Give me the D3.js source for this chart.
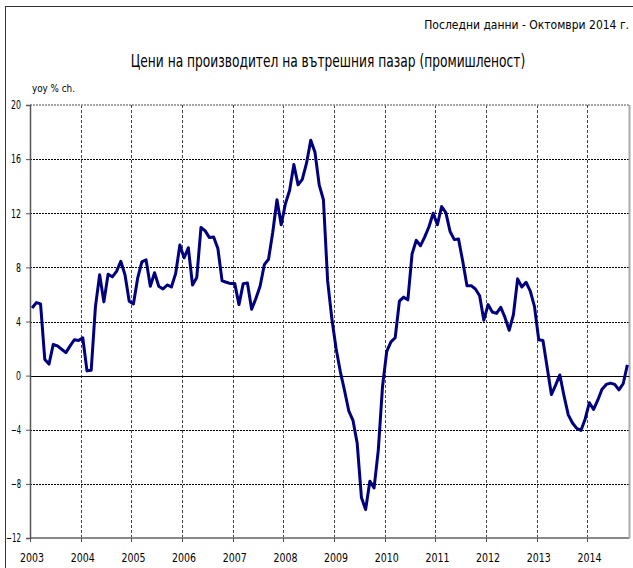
<!DOCTYPE html>
<head>
    <title>Цени на производител</title>
</head>
<meta charset="utf-8">

<script src="https://d3js.org/d3.v7.min.js"></script>

<style>
  body { margin: 0; background: #fff; }
  text { font-family: "DejaVu Sans Condensed", "Liberation Sans Narrow", "Arial Narrow", sans-serif; fill: #000; }
</style>

<div id="my_dataviz"></div>
<body>
    <script>

    // monthly yoy % change, Jan 2003 - Oct 2014
    var years = ["2003","2004","2005","2006","2007","2008","2009","2010","2011","2012","2013","2014"]
    var yTicks = [-12, -8, -4, 0, 4, 8, 12, 16, 20]
    var values = [
      5.0, 5.4, 5.3, 1.2, 0.85, 2.3, 2.2, 1.95, 1.7, 2.2, 2.65, 2.6,
      2.8, 0.35, 0.4, 5.1, 7.45, 5.45, 7.5, 7.3, 7.7, 8.45, 7.45, 5.5,
      5.3, 7.2, 8.4, 8.55, 6.6, 7.6, 6.6, 6.4, 6.7, 6.55, 7.55, 9.65,
      8.7, 9.45, 6.7, 7.25, 10.95, 10.7, 10.2, 10.25, 9.4, 7.0, 6.9, 6.8,
      6.8, 5.25, 6.8, 6.85, 4.9, 5.7, 6.6, 8.2, 8.6, 10.6, 13.0, 11.15,
      12.7, 13.7, 15.6, 14.1, 14.5, 15.7, 17.4, 16.5, 14.1, 13.0, 7.0, 4.2,
      2.0, 0.3, -1.1, -2.6, -3.3, -5.0, -9.0, -9.9, -7.8, -8.3, -5.5, -0.8,
      1.8, 2.5, 2.8, 5.5, 5.8, 5.6, 9.0, 10.0, 9.6, 10.25, 11.0, 12.0,
      11.15, 12.5, 12.05, 10.65, 10.05, 10.1, 8.45, 6.65, 6.65, 6.4, 5.9, 4.1,
      5.25, 4.7, 4.6, 5.05, 4.3, 3.35, 4.5, 7.15, 6.55, 6.9, 6.25, 5.1,
      2.65, 2.6, 0.6, -1.4, -0.7, 0.05, -1.5, -2.9, -3.5, -3.9, -4.05, -3.2,
      -2.0, -2.5, -1.8, -1.0, -0.65, -0.55, -0.65, -1.05, -0.6, 0.8
    ]

    var width = 633, height = 568

    var svg = d3.select("#my_dataviz")
      .append("svg")
        .attr("width", width)
        .attr("height", height)

    // squeeze a text horizontally so it is w pixels wide, anchored at (ax, ay)
    function narrow(sel, ax, ay, w, anchor) {
      sel.style("text-anchor", anchor).attr("x", 0).attr("y", 0)
      var natural = sel.node().getComputedTextLength()
      var s = w / natural
      sel.attr("transform", "translate(" + ax + "," + ay + ") scale(" + s + ",1)")
    }

    // outer frame
    svg.append("rect")
      .attr("x", 5.5).attr("y", 6.5)
      .attr("width", 640).attr("height", 600)
      .style("fill", "none").style("stroke", "#333").style("stroke-width", 1)

    var x = d3.scaleLinear()
      .domain([0, values.length])
      .range([30, 629.5])

    var y = d3.scaleLinear()
      .domain([-12, 20])
      .range([538, 105])

    // horizontal grid
    svg.selectAll("hgrid")
      .data(yTicks.filter(function(d){ return d != 0 && d != -12 && d != 20 }))
      .enter()
      .append("line")
        .attr("x1", x(0)).attr("x2", x(values.length))
        .attr("y1", function(d){ return Math.round(y(d)) + 0.5 })
        .attr("y2", function(d){ return Math.round(y(d)) + 0.5 })
        .style("stroke", "#000")
        .style("stroke-dasharray", "2,1")
        .style("stroke-width", 1)

    // vertical year lines
    svg.selectAll("vgrid")
      .data(d3.range(1, years.length))
      .enter()
      .append("line")
        .attr("x1", function(d){ return Math.round(x(d * 12)) + 0.5 })
        .attr("x2", function(d){ return Math.round(x(d * 12)) + 0.5 })
        .attr("y1", y(20)).attr("y2", y(-12))
        .style("stroke", "#444")
        .style("stroke-dasharray", "3,2")
        .style("stroke-width", 1)

    // top and bottom edges, right edge
    svg.append("line")
      .attr("x1", x(0)).attr("x2", x(values.length))
      .attr("y1", y(20)).attr("y2", y(20))
      .style("stroke", "#888").style("stroke-width", 1.5).style("stroke-dasharray", "2,1")
    svg.append("line")
      .attr("x1", x(0)).attr("x2", x(values.length))
      .attr("y1", y(-12)).attr("y2", y(-12))
      .style("stroke", "#888").style("stroke-width", 2)
    svg.append("line")
      .attr("x1", x(values.length)).attr("x2", x(values.length))
      .attr("y1", y(20)).attr("y2", y(-12))
      .style("stroke", "#aaa").style("stroke-width", 2)

    // zero line
    svg.append("line")
      .attr("x1", x(0)).attr("x2", x(values.length))
      .attr("y1", Math.round(y(0)) + 0.5).attr("y2", Math.round(y(0)) + 0.5)
      .style("stroke", "#000").style("stroke-width", 1.2)

    // y axis
    var yAxis = svg.append("g")
      .attr("transform", "translate(" + x(0) + ",0)")
      .call(d3.axisLeft(y).tickValues(yTicks).tickSize(4).tickPadding(5))
    yAxis.select(".domain").style("stroke", "#555").style("stroke-width", 1.5)
    yAxis.selectAll(".tick line").style("stroke", "#555")
    yAxis.selectAll("text")
      .style("font-size", "12px")
      .style("font-family", "'DejaVu Sans Condensed', sans-serif")
      .style("fill", "#000")
      .attr("textLength", function(d){ return String(d).length * 5 })
      .attr("lengthAdjust", "spacingAndGlyphs")

    // year ticks below axis
    svg.selectAll("xtick")
      .data(d3.range(0, years.length + 1))
      .enter()
      .append("line")
        .attr("x1", function(d){ return Math.round(x(d * 12)) + 0.5 })
        .attr("x2", function(d){ return Math.round(x(d * 12)) + 0.5 })
        .attr("y1", y(-12)).attr("y2", y(-12) + 4)
        .style("stroke", "#555")

    // year labels
    svg.selectAll("xlab")
      .data(years)
      .enter()
      .append("text")
        .attr("x", function(d, i){ return x(i * 12 + 0.5) })
        .attr("y", 562)
        .style("text-anchor", "middle")
        .style("font-size", "12px")
        .attr("textLength", 24)
        .attr("lengthAdjust", "spacingAndGlyphs")
        .text(function(d){ return d })

    // the series
    var line = d3.line()
      .x(function(d, i){ return x(i + 0.5) })
      .y(function(d){ return y(d) })

    svg.append("path")
      .datum(values)
      .attr("d", line)
      .style("fill", "none")
      .style("stroke", "#00007f")
      .style("stroke-width", 3)
      .style("stroke-linejoin", "round")

    // texts
    svg.append("text")
      .style("font-size", "13px")
      .text("Последни данни - Октомври 2014 г.")
      .call(narrow, 629, 29, 205, "end")

    svg.append("text")
      .style("font-size", "18px")
      .text("Цени на производител на вътрешния пазар (промишленост)")
      .call(narrow, 328, 67, 395, "middle")

    svg.append("text")
      .style("font-size", "11px")
      .text("yoy % ch.")
      .call(narrow, 32, 92, 43, "start")

</script>
</body>
